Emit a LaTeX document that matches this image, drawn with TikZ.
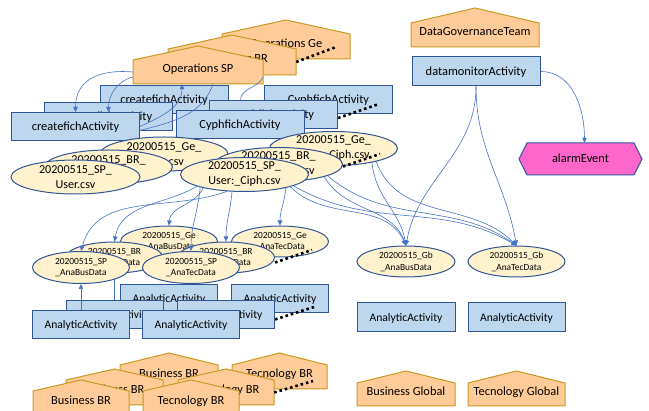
\documentclass[tikz,border=0pt]{standalone}
\usepackage{fontspec}
\setmainfont{Carlito}
\usetikzlibrary{shapes.geometric,arrows.meta}

\definecolor{agentfill}{RGB}{255,204,153}
\definecolor{agentline}{RGB}{200,152,32}
\definecolor{actfill}{RGB}{189,215,238}
\definecolor{actline}{RGB}{47,85,151}
\definecolor{entfill}{RGB}{255,242,204}
\definecolor{evfill}{RGB}{255,102,204}
\definecolor{flow}{RGB}{68,114,196}

\tikzset{
  agentshape/.style={fill=agentfill, draw=agentline, line width=1pt, line join=miter},
  agenttext/.style={inner sep=0pt, font=\fontsize{12.4}{14}\selectfont, text height=8.5pt, text depth=6.5pt},
  actbox/.style={rectangle, fill=actfill, draw=actline, line width=1pt, inner sep=0pt,
    minimum width=128pt, minimum height=28pt, font=\fontsize{12.4}{14}\selectfont,
    text height=8pt, text depth=0pt},
  anabox/.style={actbox, minimum width=97pt, font=\fontsize{11.6}{14}\selectfont},
  bigent/.style={ellipse, fill=entfill, draw=actline, line width=1pt, inner sep=0pt,
    minimum width=128pt, minimum height=34pt},
  smallent/.style={bigent, minimum width=97pt, minimum height=31pt},
  bigtext/.style={align=center, inner sep=0pt, font=\fontsize{12.1}{15}\selectfont},
  smalltext/.style={align=center, inner sep=0pt, font=\fontsize{9.4}{11.8}\selectfont},
  flowline/.style={draw=flow, line width=0.6pt},
  flowarrow/.style={flowline, -{Triangle[length=5pt,width=4.5pt]}},
  stackdots/.style={draw=black, line width=2.6pt, dash pattern=on 2.6pt off 2.9pt},
}

% house-shaped agent: name, centre x, half width, apex y, shoulder y, base y, label
\newcommand{\agentnode}[7]{%
  \filldraw[agentshape] ({#2-#3},#6) -- ({#2-#3},#5) -- (#2,#4) -- ({#2+#3},#5) -- ({#2+#3},#6) -- cycle;
  \node[agenttext, minimum width={2*#3}, minimum height={#6-#5}] (#1) at (#2,{(#5+#6)/2}) {#7};
}

\begin{document}
\begin{tikzpicture}[x=1pt,y=-1pt]
\useasboundingbox (0,0) rectangle (649,411);
\clip (0,0) rectangle (649,411);

% operations agents
\agentnode{opsGe}{286}{64}{20}{34}{59}{Operations Ge}
\agentnode{opsBR}{232}{64}{35}{49}{75}{Operations BR}
\agentnode{opsSP}{198}{65}{46}{60}{84}{Operations SP}
\coordinate (opsDots) at (336,47);
\draw[stackdots] (opsBR.east) -- (opsDots);

% governance
\agentnode{dgt}{475}{64}{8}{23}{47}{DataGovernanceTeam}
\node[actbox, minimum height=29pt] (dm) at (476,71.5) {datamonitorActivity};
\filldraw[fill=evfill, draw=actline, line width=1pt] (519,159) -- (527,143) -- (634,143) -- (642,159) -- (634,175) -- (527,175) -- cycle;
\node[inner sep=0pt, minimum width=123pt, minimum height=32pt, font=\fontsize{12.4}{14}\selectfont, text height=8pt, text depth=0pt] (alarm) at (580.5,159) {alarmEvent};

% file creation activities
\node[actbox] (cfGe) at (164,100) {createfichActivity};
\node[actbox] (cfBR) at (108.5,117) {createfichActivity};
\node[actbox] (cfSP) at (75.5,126.5) {createfichActivity};
\node[actbox] (cyGe) at (328.5,100) {CyphfichActivity};
\node[actbox] (cyBR) at (273.5,115) {CyphfichActivity};
\node[actbox] (cySP) at (240,125) {CyphfichActivity};
\coordinate (cyDots) at (379,104);
\draw[stackdots] ([yshift=-3pt]cyBR.east) -- (cyDots);

% user files
\node[bigent] (ucGe) at (164,154) {};
\node[bigtext] (ucGe-t) at (ucGe.center) {20200515\_Ge\_\\User.csv};
\node[bigent] (ucBR) at (108.5,167) {};
\node[bigtext] (ucBR-t) at (ucBR.center) {20200515\_BR\_\\User.csv};
\node[bigent, minimum width=129pt] (ucSP) at (75.5,177) {};
\node[bigtext] (ucSP-t) at (ucSP.center) {20200515\_SP\_\\User.csv};

% ciphered files
\node[bigent] (chGe) at (333.5,148.5) {};
\node[bigtext] (chGe-t) at (chGe.center) {20200515\_Ge\_\\User:\_Ciph.csv};
\node[bigent] (chBR) at (278.5,164.5) {};
\node[bigtext] (chBR-t) at (chBR.center) {20200515\_BR\_\\User:\_Ciph.csv};
\node[bigent] (chSP) at (244.5,174.5) {};
\node[bigtext] (chSP-t) at (chSP.center) {20200515\_SP\_\\User:\_Ciph.csv};
\coordinate (chDots) at (380,154);
\draw[stackdots] ([yshift=-2pt]chBR.east) -- (chDots);

% analytic activities
\node[anabox] (anBusGe) at (169,299) {AnalyticActivity};
\node[anabox] (anBusBR) at (114.5,314.5) {AnalyticActivity};
\node[anabox] (anBusSP) at (81,325) {AnalyticActivity};
\node[anabox] (anTecGe) at (280,298.5) {AnalyticActivity};
\node[anabox] (anTecBR) at (226,314.5) {AnalyticActivity};
\node[anabox] (anTecSP) at (191,325) {AnalyticActivity};
\coordinate (anDots) at (314,307);
\draw[stackdots] ([yshift=-5pt]anTecBR.east) -- (anDots);

% analytic data
\node[smallent] (abGe) at (169,241.5) {};
\node[smalltext] (abGe-t) at (abGe.center) {20200515\_Ge\\\_AnaBusData};
\node[smallent] (abBR) at (114.5,257.5) {};
\node[smalltext] (abBR-t) at (abBR.center) {20200515\_BR\\\_AnaBusData};
\draw[flowarrow] (anBusBR.north) -- (abBR.south);
\node[smallent, minimum height=32pt] (abSP) at (81,267.5) {};
\node[smalltext] (abSP-t) at (abSP.center) {20200515\_SP\\\_AnaBusData};
\node[smallent] (atGe) at (280,241.5) {};
\node[smalltext] (atGe-t) at (atGe.center) {20200515\_Ge\\\_AnaTecData};
\node[smallent] (atBR) at (226,257.5) {};
\node[smalltext] (atBR-t) at (atBR.center) {20200515\_BR\\\_AnaTecData};
\node[smallent, minimum height=32pt] (atSP) at (191,267.5) {};
\node[smalltext] (atSP-t) at (atSP.center) {20200515\_SP\\\_AnaTecData};
\coordinate (atDots) at (312,250);
\draw[stackdots] ([yshift=-5pt]atBR.east) -- (atDots);

% global data, activities and agents
\node[smallent, minimum width=98pt] (gbBus) at (406,261.5) {};
\node[smalltext] (gbBus-t) at (gbBus.center) {20200515\_Gb\\\_AnaBusData};
\node[smallent] (gbTec) at (516.5,261.5) {};
\node[smalltext] (gbTec-t) at (gbTec.center) {20200515\_Gb\\\_AnaTecData};
\node[anabox, minimum width=98pt, minimum height=29pt] (anGbBus) at (406,317.5) {AnalyticActivity};
\node[anabox, minimum height=29pt] (anGbTec) at (516.5,317.5) {AnalyticActivity};
\agentnode{busGl}{406}{49}{371}{383}{406}{Business Global}
\agentnode{tecGl}{516.5}{48.5}{371}{383}{406}{Tecnology Global}

% business and technology agents
\agentnode{busGe}{169}{49}{353}{365}{389}{Business BR}
\agentnode{busBR}{114.5}{48.5}{369}{380}{405}{Business BR}
\agentnode{busSP}{81}{48}{380}{391}{416}{Business BR}
\agentnode{tecGe}{279.5}{47.5}{353}{365}{389}{Tecnology BR}
\agentnode{tecBR}{226}{48}{369}{380}{405}{Tecnology BR}
\agentnode{tecSP}{191}{48}{380}{391}{416}{Tecnology BR}
\coordinate (tecDots) at (313,381);
\draw[stackdots] (tecBR.east) -- (tecDots);

% relations: agents and activities
\draw[flowarrow] (opsSP.west) to[out=175,in=90,looseness=1.2] (cfSP.north);
\draw[flowarrow] ([yshift=-5pt]opsSP.west) to[out=195,in=90] ([xshift=33pt]cfSP.north);
\draw[flowarrow] (cfSP.east) to[out=25,in=-90] ([xshift=-16pt]opsSP.south);
\draw[flowline] ([xshift=15pt]opsSP.south) to[out=-110,in=15] ([yshift=-4pt]cfSP.east);
\draw[flowline] ([yshift=-5pt]opsSP.east) to[out=-115,in=90] ([xshift=-33pt]cyBR.north);

% relations: monitoring
\draw[flowarrow] (dm.east) to[out=0,in=90] ([xshift=4pt]alarm.north);
\draw[flowarrow] (dm.south) to[out=-90,in=80] (gbBus.north);
\draw[flowarrow] (dm.south) to[out=-90,in=100] (gbTec.north);

% relations: ciphered files to analytic data
\draw[flowarrow] (chSP.-136) to[out=-160,in=75] (abSP.north);
\draw[flowarrow] (chSP.-166) to[out=-150,in=80] (abBR.north);
\draw[flowarrow] (chSP.-162) to[out=-115,in=85] (abGe.north);
\draw[flowarrow] (chSP.-164) to[out=-95,in=90] (atSP.north);
\draw[flowarrow] (chSP.-126) to[out=-95,in=90] (atBR.north);
\draw[flowarrow] (chSP.-18) to[out=-95,in=90] (atGe.north);

\draw[flowarrow] (chSP.-15) to[out=-45,in=115] (gbBus.north);
\draw[flowarrow] (chSP.-13) to[out=-30,in=150] (gbTec.north);
\draw[flowarrow] (chBR.-15) to[out=-60,in=110] (gbBus.north);
\draw[flowarrow] (chBR.-13) to[out=-40,in=145] (gbTec.north);
\draw[flowarrow] (chGe.-20) to[out=-85,in=100] (gbBus.north);
\draw[flowarrow] (chGe.-17) to[out=-70,in=135] (gbTec.north);

% relations: analytic activities
\draw[flowarrow] (anBusSP.north) -- (abSP.south);
\end{tikzpicture}
\end{document}
